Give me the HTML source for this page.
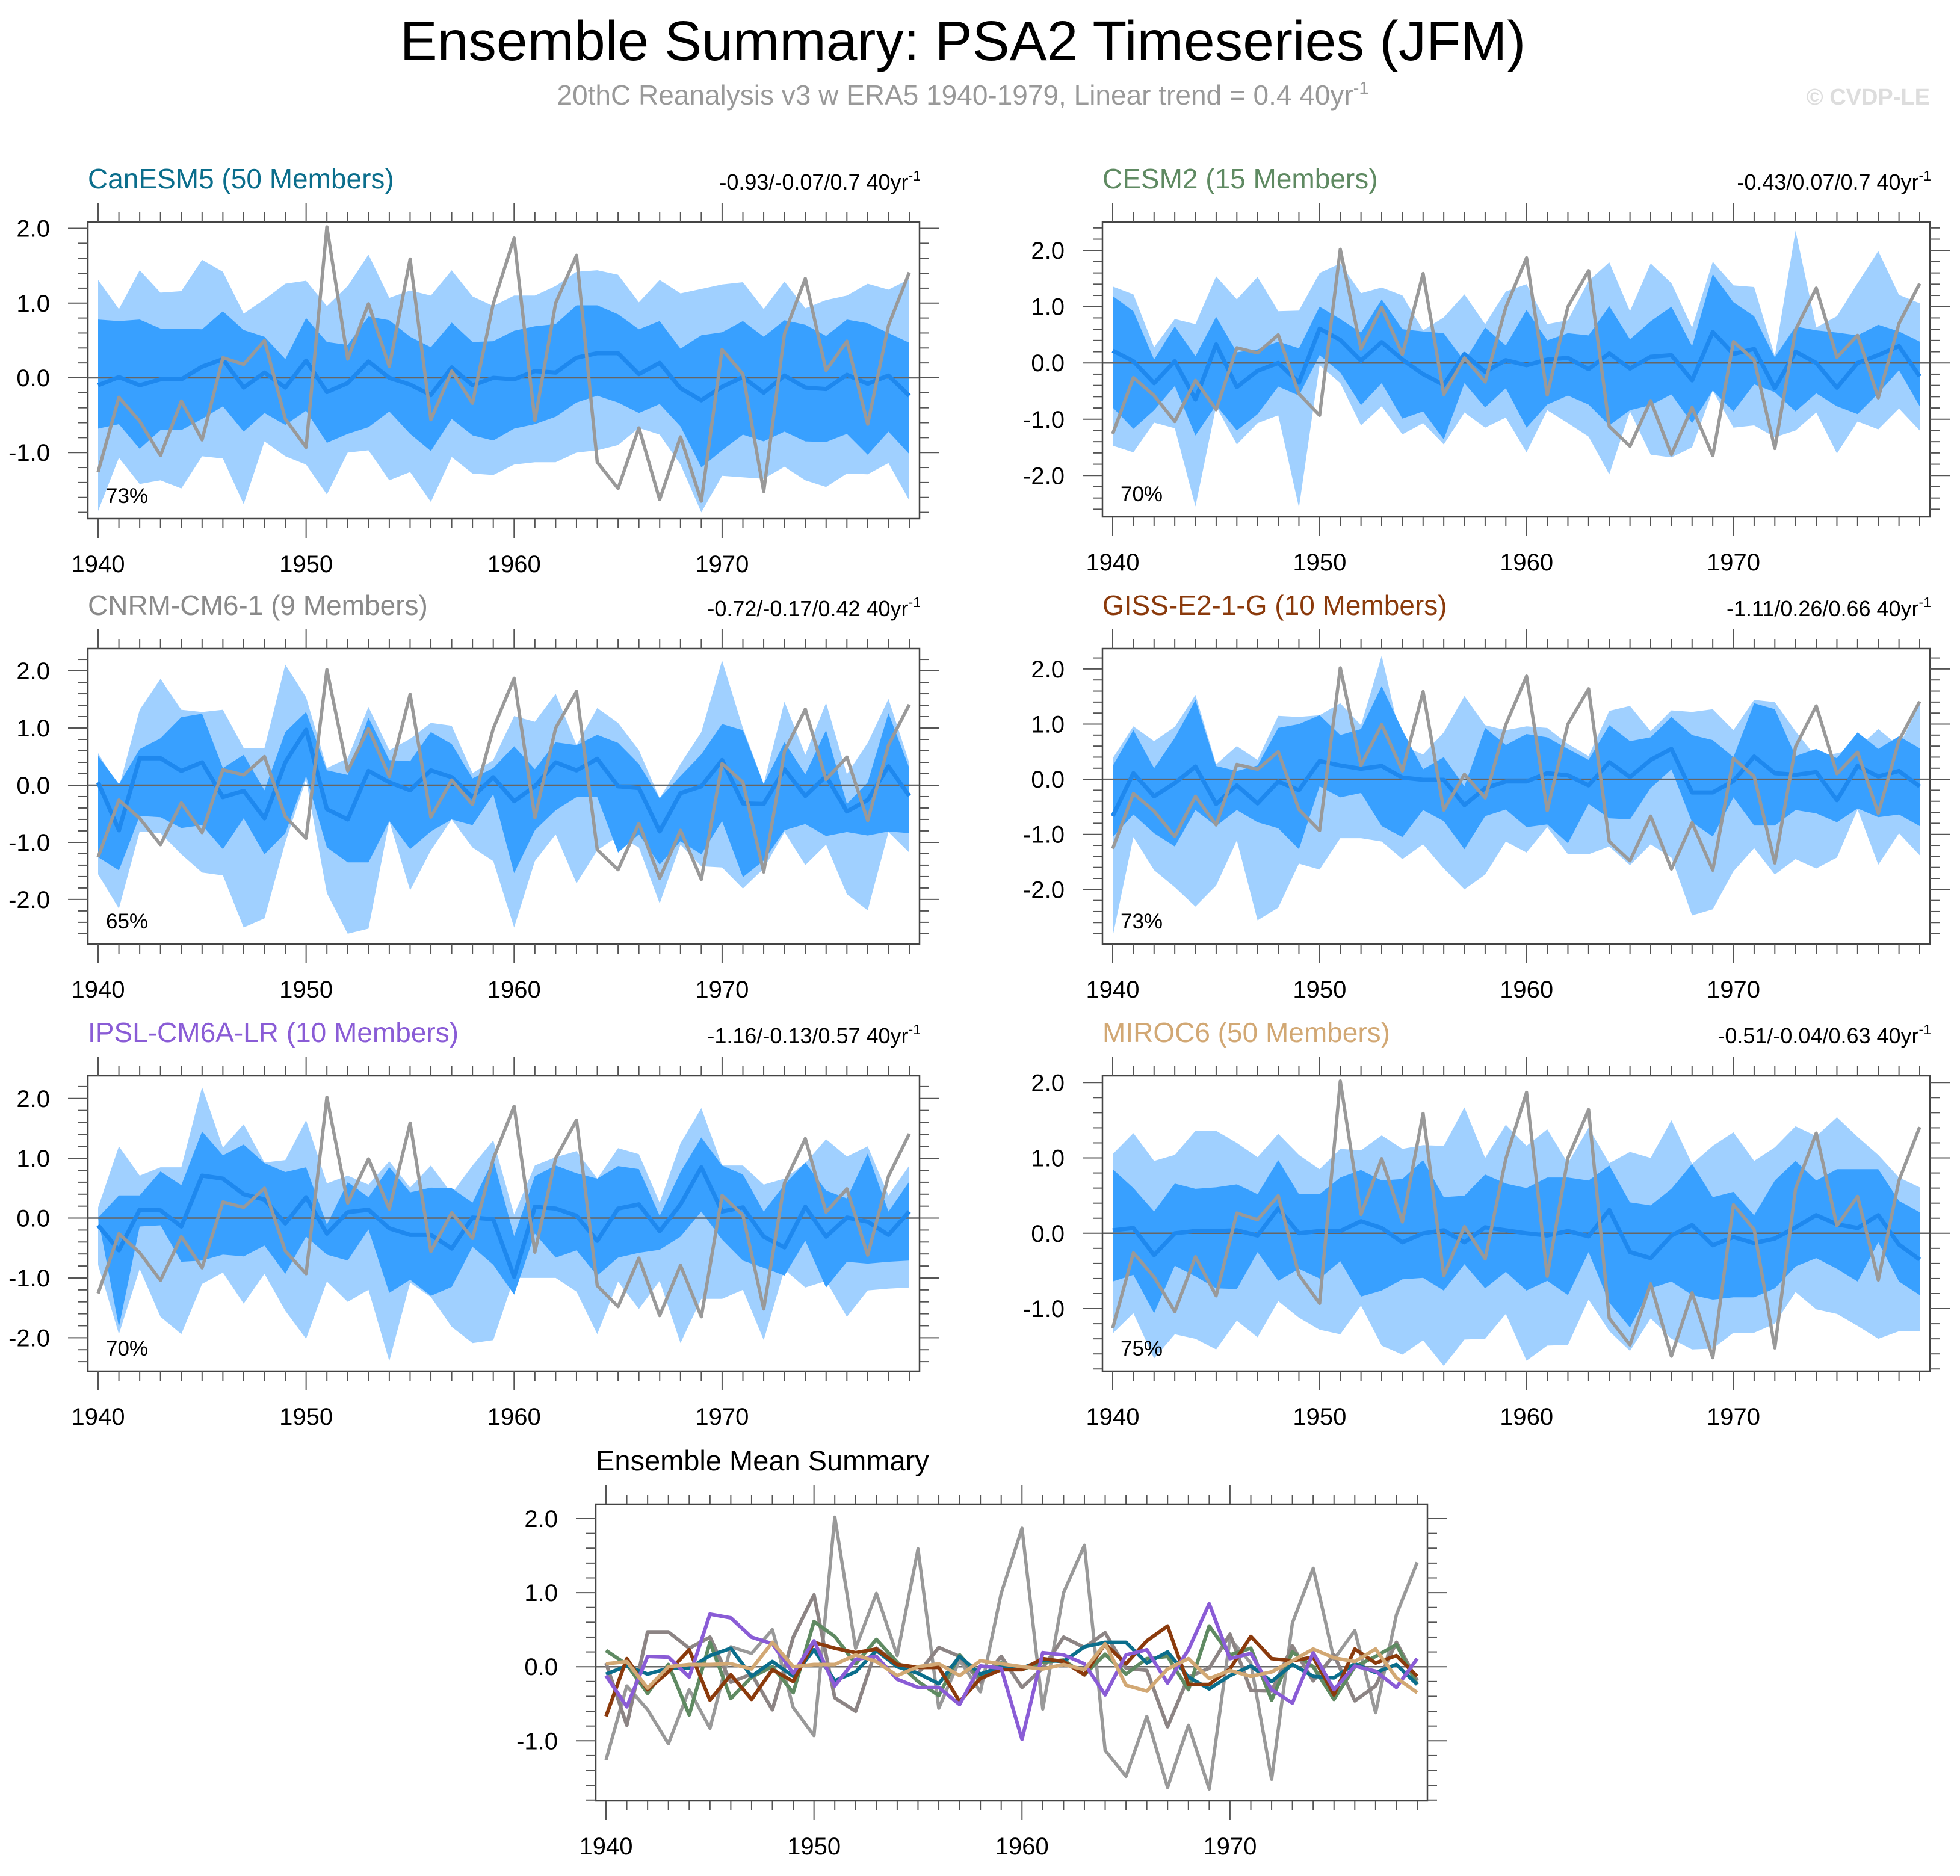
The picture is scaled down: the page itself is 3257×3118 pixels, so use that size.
<!DOCTYPE html>
<html><head><meta charset="utf-8"><style>
html,body{margin:0;padding:0;background:#fff;}
svg text{font-family:"Liberation Sans",sans-serif;}
</style></head><body>
<svg id="chart" xmlns="http://www.w3.org/2000/svg" width="3257" height="3113" viewBox="0 0 3257 3113">
<rect width="3257" height="3113" fill="#fff"/>
<text x="1600" y="100" font-size="93" text-anchor="middle" fill="#000">Ensemble Summary: PSA2 Timeseries (JFM)</text>
<text x="1600" y="174" font-size="46" text-anchor="middle" fill="#999">20thC Reanalysis v3 w ERA5 1940-1979, Linear trend = 0.4 40yr<tspan dy="-18" font-size="29">-1</tspan></text>
<text x="3207" y="174" font-size="38" font-weight="bold" text-anchor="end" fill="#ddd">© CVDP-LE</text>
<g id="plots"></g>
</svg>
<script>
const years = [];
for (let y = 1940; y <= 1979; y++) years.push(y);
const obs = [-1.26,-0.26,-0.58,-1.04,-0.31,-0.83,0.27,0.18,0.50,-0.55,-0.93,2.02,0.25,0.99,0.15,1.59,-0.56,0.09,-0.34,0.99,1.87,-0.57,1.00,1.64,-1.13,-1.48,-0.67,-1.63,-0.79,-1.65,0.38,0.05,-1.52,0.59,1.33,0.10,0.49,-0.62,0.70,1.41];

const canMean = [-0.1,0.01,-0.1,-0.02,-0.02,0.15,0.25,-0.13,0.07,-0.13,0.23,-0.19,-0.07,0.22,0,-0.09,-0.23,0.14,-0.1,0,-0.02,0.09,0.07,0.27,0.33,0.33,0.05,0.2,-0.14,-0.3,-0.12,0.01,-0.2,0.03,-0.13,-0.15,0.04,-0.08,0.03,-0.24];
const canDarkHi = [0.78,0.76,0.78,0.66,0.66,0.65,0.89,0.64,0.55,0.25,0.80,0.48,0.44,0.82,0.77,0.55,0.41,0.74,0.48,0.49,0.63,0.69,0.72,0.97,0.97,0.85,0.65,0.76,0.39,0.57,0.61,0.76,0.55,0.77,0.71,0.56,0.78,0.73,0.60,0.47];
const canDarkLo = [-0.68,-0.62,-0.95,-0.70,-0.70,-0.55,-0.38,-0.72,-0.47,-0.63,-0.44,-0.87,-0.75,-0.66,-0.45,-0.75,-0.98,-0.55,-0.77,-0.84,-0.68,-0.62,-0.52,-0.33,-0.24,-0.33,-0.47,-0.35,-0.65,-1.20,-0.97,-0.76,-0.85,-0.72,-0.85,-0.86,-0.75,-1.03,-0.72,-1.02];
const canLightHi = [1.31,0.92,1.44,1.14,1.16,1.58,1.42,0.86,1.05,1.26,1.30,0.96,1.23,1.65,1.07,1.17,1.10,1.44,1.09,0.96,1.10,1.10,1.23,1.42,1.44,1.38,1.01,1.31,1.13,1.19,1.25,1.28,0.92,1.29,0.93,1.04,1.10,1.26,1.18,1.32];
const canLightLo = [-1.78,-1.07,-1.42,-1.37,-1.48,-1.05,-1.08,-1.69,-0.85,-1.05,-1.16,-1.56,-1.00,-0.97,-1.37,-1.26,-1.66,-1.06,-1.28,-1.30,-1.16,-1.13,-1.13,-1.00,-0.97,-0.90,-0.67,-0.76,-1.16,-1.80,-1.31,-1.33,-1.35,-1.19,-1.37,-1.46,-1.28,-1.29,-1.14,-1.64];

const cesmMean = [0.22,0.03,-0.36,0.03,-0.65,0.33,-0.43,-0.14,0,-0.35,0.61,0.41,0.04,0.37,0.06,-0.2,-0.39,0.16,-0.16,0.05,-0.04,0.06,0.09,-0.11,0.17,-0.1,0.11,0.14,-0.31,0.55,0.16,0.25,-0.45,0.2,0,-0.44,0,0.14,0.3,-0.24];
const cesmDarkHi = [1.19,0.92,0.06,0.65,0.12,0.82,0.19,0.24,0.38,0.26,1.0,0.78,0.54,1.13,0.6,0.56,0.53,0.03,0.63,0.31,0.94,0.4,0.53,0.49,1.01,0.42,0.74,1.0,0.3,1.58,1.08,0.83,0.1,0.65,0.58,0.54,0.49,0.68,0.56,0.38];
const cesmDarkLo = [-0.79,-1.17,-0.84,-0.41,-1.29,-0.75,-1.2,-0.91,-0.42,-0.58,0.14,-0.17,-0.75,-0.36,-0.99,-0.86,-1.36,-0.36,-0.79,-0.45,-1.15,-0.74,-0.58,-0.74,-1.11,-0.84,-0.75,-0.56,-1.07,-0.49,-0.86,-0.38,-0.52,-0.86,-0.54,-0.77,-0.91,-0.54,-0.13,-0.77];
const cesmLightHi = [1.36,1.22,0.28,0.78,0.69,1.54,1.13,1.53,0.92,0.93,1.6,1.77,1.24,1.34,1.2,0.58,0.81,1.22,0.69,1.27,1.4,0.69,0.76,1.46,1.79,0.92,1.77,1.42,0.63,1.8,1.38,1.35,0.12,2.35,0.63,0.83,1.42,1.99,1.21,1.06];
const cesmLightLo = [-1.47,-1.59,-1.06,-1.16,-2.55,-0.77,-1.45,-1.07,-0.93,-2.57,-0.04,-0.36,-1.11,-0.77,-1.27,-1.07,-1.45,-0.88,-1.15,-0.97,-1.59,-0.84,-1.07,-1.31,-1.98,-0.86,-1.63,-1.68,-1.5,-0.49,-1.15,-1.11,-1.32,-1.2,-0.88,-1.61,-1.04,-1.18,-0.81,-1.2];

const cnrmMean = [0.05,-0.79,0.47,0.47,0.25,0.4,-0.21,-0.1,-0.58,0.4,0.97,-0.42,-0.6,0.25,0.05,-0.09,0.26,0.14,-0.21,0.14,-0.28,-0.02,0.4,0.26,0.46,-0.02,-0.05,-0.81,-0.14,-0.02,0.44,-0.32,-0.33,0.28,-0.19,0.16,-0.46,-0.26,0.33,-0.19];
const cnrmDarkHi = [0.51,0.02,0.63,0.82,1.19,1.25,0.3,0.53,-0.09,0.93,1.28,0.26,0.18,1.18,0.44,0.42,0.93,0.72,0.12,0.3,0.68,0.28,0.75,0.7,0.88,0.74,0.37,-0.23,0.16,0.54,1.07,0.96,0.02,0.75,0.19,0.96,-0.33,0.05,1.26,0.3];
const cnrmDarkLo = [-1.26,-1.49,-0.54,-0.56,-0.75,-0.7,-1.12,-0.58,-1.21,-0.84,0.16,-1.09,-1.35,-1.35,-0.63,-1.12,-0.81,-0.6,-0.7,-0.16,-1.54,-0.79,-0.44,-0.21,-0.21,-1.18,-0.86,-1.39,-0.98,-1.21,-0.63,-1.61,-1.32,-0.79,-0.68,-0.89,-0.82,-0.88,-0.81,-0.84];
const cnrmLightHi = [0.56,-0.04,1.32,1.86,1.32,1.28,1.32,0.65,0.65,2.11,1.54,0.3,0.47,1.37,0.61,0.81,1.09,1.04,0.21,0.44,1.21,1.11,1.6,0.7,1.35,1.09,0.61,-0.23,0.37,0.93,2.18,1.0,0.02,1.46,0.53,1.44,0.19,0.74,1.51,0.39];
const cnrmLightLo = [-1.56,-2.16,-0.81,-0.84,-1.21,-1.53,-1.58,-2.49,-2.33,-1.0,0.1,-1.89,-2.6,-2.51,-0.63,-1.84,-1.14,-0.6,-1.09,-1.33,-2.49,-1.33,-0.86,-1.72,-1.14,-0.89,-1.09,-2.07,-1.04,-1.42,-1.44,-1.81,-1.46,-0.82,-1.4,-1.04,-1.91,-2.19,-0.82,-1.18];

const gissMean = [-0.67,0.11,-0.31,-0.07,0.23,-0.45,-0.11,-0.44,-0.04,-0.2,0.33,0.25,0.19,0.24,0.03,-0.01,-0.01,-0.47,-0.16,-0.04,-0.04,0.11,0.07,-0.11,0.31,0.04,0.35,0.55,-0.24,-0.24,-0.03,0.41,0.11,0.08,0.13,-0.38,0.24,0.05,0.15,-0.13];
const gissDarkHi = [0.24,0.89,0.2,0.75,1.44,0.24,0.15,0.25,0.93,1.0,1.16,0.8,0.91,1.69,0.89,0.18,0.4,-0.13,0.93,0.62,0.82,0.76,0.55,0.35,0.98,0.69,0.76,1.13,0.8,0.71,0.4,1.38,1.27,0.42,0.55,0.38,0.85,0.55,0.78,0.56];
const gissDarkLo = [-1.05,-0.64,-0.98,-1.22,-0.56,-0.85,-0.56,-0.78,-0.89,-1.27,-0.13,-0.33,-0.25,-0.85,-1.05,-0.56,-0.76,-1.27,-0.67,-0.55,-0.87,-0.82,-1.16,-0.45,-0.71,-0.73,-0.16,0.18,-0.78,-1.04,-0.33,-0.84,-0.84,-0.56,-0.62,-0.78,-0.53,-0.69,-0.64,-0.85];
const gissLightHi = [0.38,0.96,0.69,0.95,1.53,0.27,0.6,0.35,1.15,1.13,1.16,1.38,0.98,2.24,0.6,0.45,0.85,1.51,0.98,0.89,0.96,0.93,0.64,0.42,1.24,1.33,0.87,1.25,1.22,1.27,0.89,1.44,1.4,0.87,0.4,0.47,0.56,0.91,0.6,1.36];
const gissLightLo = [-2.85,-1.05,-1.65,-1.96,-2.31,-1.93,-1.11,-2.56,-2.33,-1.53,-1.64,-1.07,-1.07,-1.13,-1.45,-1.18,-1.62,-2.0,-1.73,-1.13,-1.33,-0.87,-1.36,-1.36,-1.22,-1.56,-1.18,-1.42,-2.47,-2.36,-1.67,-1.25,-1.73,-1.45,-1.62,-1.42,-0.55,-1.55,-0.98,-1.38];

const ipslMean = [-0.12,-0.54,0.14,0.13,-0.14,0.71,0.66,0.4,0.31,-0.09,0.35,-0.26,0.1,0.14,-0.17,-0.28,-0.28,-0.51,0.01,-0.02,-0.98,0.19,0.16,0.04,-0.38,0.16,0.23,-0.22,0.23,0.85,0.11,0.18,-0.31,-0.49,0.19,-0.31,0.01,-0.06,-0.28,0.11];
const ipslDarkHi = [0.01,0.38,0.38,0.78,0.55,1.45,1.05,1.23,0.92,0.77,0.85,-0.11,0.6,0.35,0.85,0.43,0.51,0.5,0.26,0.98,-0.3,0.7,0.88,0.75,0.66,0.87,0.82,0.04,0.77,1.35,0.88,0.73,0.11,0.56,0.93,0.46,0.33,1.08,0.11,0.61];
const ipslDarkLo = [0.01,-1.82,-0.14,-0.12,-0.73,-0.71,-0.61,-0.64,-0.46,-0.93,-0.31,-0.61,-0.71,-0.19,-1.25,-1.03,-1.3,-1.15,-0.48,-0.78,-1.28,-0.26,-0.66,-0.54,-0.96,-0.66,-0.58,-0.53,-0.31,0.11,-0.36,-0.71,-0.83,-0.96,-0.38,-1.16,-0.73,-0.76,-0.73,-0.71];
const ipslLightHi = [0.18,1.2,0.71,0.85,0.85,2.19,1.18,1.57,0.93,0.97,1.64,0.58,0.71,0.56,0.95,0.51,0.88,0.41,0.88,1.3,0.06,0.88,1.02,1.12,0.66,1.17,1.07,0.26,1.25,1.84,0.88,0.88,0.56,0.66,0.92,1.32,1.03,1.2,0.38,0.88];
const ipslLightLo = [-0.78,-1.94,-0.85,-1.65,-1.94,-1.1,-0.91,-1.43,-0.93,-1.55,-2.02,-1.06,-1.4,-1.2,-2.39,-1.08,-1.32,-1.82,-2.09,-2.04,-1.0,-1.0,-1.0,-1.23,-1.94,-1.06,-1.52,-1.05,-2.09,-1.35,-1.35,-1.2,-2.04,-0.86,-1.16,-1.05,-1.65,-1.21,-1.18,-1.16];

const mirocMean = [0.04,0.07,-0.29,0,0.03,0.03,0.04,-0.03,0.33,0,0.03,0.03,0.16,0.07,-0.12,0,0.04,-0.12,0.08,0.04,0,-0.03,0.03,-0.04,0.31,-0.25,-0.33,-0.03,0.11,-0.16,-0.05,-0.13,-0.07,0.08,0.24,0.12,0.07,0.24,-0.15,-0.35];
const mirocDarkHi = [0.85,0.6,0.29,0.66,0.59,0.61,0.65,0.52,0.97,0.52,0.52,0.74,0.84,0.7,0.72,0.97,0.48,0.5,0.78,0.66,0.6,0.74,0.74,0.7,0.9,0.41,0.37,0.59,0.92,0.48,0.55,0.24,0.7,0.96,0.7,0.85,0.85,0.85,0.43,0.28];
const mirocDarkLo = [-0.64,-0.55,-1.06,-0.43,-0.57,-0.73,-0.74,-0.25,-0.63,-0.47,-0.6,-0.37,-0.84,-0.76,-0.61,-0.59,-0.76,-0.41,-0.73,-0.51,-0.76,-0.63,-0.82,-0.25,-0.92,-1.25,-0.73,-0.64,-0.82,-0.88,-0.85,-0.85,-0.73,-0.44,-0.33,-0.47,-0.64,-0.12,-0.64,-0.82];
const mirocLightHi = [1.05,1.33,0.96,1.04,1.36,1.36,1.2,1.01,1.32,1.04,0.85,1.12,1.1,1.3,1.12,1.17,1.16,1.67,1.0,1.44,1.16,1.38,0.93,1.4,0.93,1.08,1.0,1.5,0.92,1.16,1.34,0.96,1.14,1.42,1.29,1.54,1.28,1.04,0.74,0.61];
const mirocLightLo = [-1.33,-1.06,-1.66,-1.34,-1.4,-1.54,-1.16,-1.38,-0.9,-1.12,-1.28,-1.34,-0.96,-1.49,-1.61,-1.42,-1.76,-1.41,-1.4,-1.07,-1.69,-1.49,-1.48,-0.88,-1.3,-1.56,-1.13,-1.4,-1.54,-1.53,-1.32,-1.32,-1.2,-0.78,-1.01,-1.07,-1.23,-1.4,-1.3,-1.3];

const yTickLabels1 = ["-1.0","0.0","1.0","2.0"];
const yTickLabels2 = ["-2.0","-1.0","0.0","1.0","2.0"];
const xTickLabels = ["1940","1950","1960","1970"];

const NS = "http://www.w3.org/2000/svg";
const root = document.getElementById('plots');
function el(tag, attrs, parent) {
  const e = document.createElementNS(NS, tag);
  for (const k in attrs) e.setAttribute(k, attrs[k]);
  (parent || root).appendChild(e);
  return e;
}

function drawPanel(p) {
  const g = el('g', {});
  
  
  const X0 = p.x0, X1 = p.x1, Y0 = p.y0, Y1 = p.y1;
  const px0 = X0 + 17, px1 = X1 - 17;
  const xs = (yr) => px0 + (yr - 1940) * (px1 - px0) / 39;
  const ys = (v) => Y0 + (p.vmax - v) * (Y1 - Y0) / (p.vmax - p.vmin);
  const t = el('text', {x: X0, y: Y0 - 56, 'font-size': p.tsize || 46, fill: p.tcolor}, g);
  t.textContent = p.title;
  
  
  if (p.stat) {
    const s = el('text', {x: X1 + 2, y: Y0 - 54, 'font-size': 36, 'text-anchor': 'end', fill: '#000'}, g);
    s.textContent = p.stat + ' 40yr';
    const sup = el('tspan', {dy: -15, 'font-size': 23}, s);
    sup.textContent = '-1';
    
    
  }
  const clipId = 'clip-' + p.id;
  const cp = el('clipPath', {id: clipId}, g);
  el('rect', {x: X0, y: Y0, width: X1 - X0, height: Y1 - Y0}, cp);
  const pg = el('g', {'clip-path': 'url(#' + clipId + ')'}, g);
  function band(hi, lo, color, name) {
    let pts = [];
    for (let i = 0; i < hi.length; i++) pts.push(xs(years[i]).toFixed(1) + ',' + ys(hi[i]).toFixed(1));
    for (let i = lo.length - 1; i >= 0; i--) pts.push(xs(years[i]).toFixed(1) + ',' + ys(lo[i]).toFixed(1));
    const b = el('polygon', {points: pts.join(' '), fill: color}, pg);
    
    
  }
  function line(vals, color, w, name) {
    const pts = vals.map((v, i) => xs(years[i]).toFixed(1) + ',' + ys(v).toFixed(1)).join(' ');
    const l = el('polyline', {points: pts, fill: 'none', stroke: color, 'stroke-width': w, 'stroke-linejoin': 'round'}, pg);
    
    
  }
  if (p.lightHi) {
    band(p.lightHi, p.lightLo, '#a0d0ff', p.id + '-outer-spread-band');
    band(p.darkHi, p.darkLo, '#38a0ff', p.id + '-inner-spread-band');
  }
  const z = el('line', {x1: X0, x2: X1, y1: ys(0), y2: ys(0), stroke: '#666', 'stroke-width': 2.5}, pg);
  
  
  if (p.mean) {
    line(p.mean, '#1e88ee', 7, p.id + '-ensemble-mean-line');
    line(obs, '#999999', 5.5, p.id + '-observed-line');
  }
  if (p.multi) {
    line(obs, '#999999', 5.5, p.id + '-observed-line');
    p.multi.forEach(m => line(m.vals, m.color, 6, p.id + '-' + m.name + '-line'));
  }
  const fr = el('rect', {x: X0, y: Y0, width: X1 - X0, height: Y1 - Y0, fill: 'none', stroke: '#444', 'stroke-width': 2.5}, g);
  
  
  for (let i = 0; i < years.length; i++) {
    const x = xs(years[i]);
    const major = years[i] % 10 === 0;
    const L = major ? 32 : 16;
    el('line', {x1: x, x2: x, y1: Y0, y2: Y0 - L, stroke: '#555', 'stroke-width': 2}, g);
    el('line', {x1: x, x2: x, y1: Y1, y2: Y1 + L, stroke: '#555', 'stroke-width': 2}, g);
  }
  xTickLabels.forEach(lbl => {
    const tx = el('text', {x: xs(+lbl), y: Y1 + 89, 'font-size': 40, 'text-anchor': 'middle', fill: '#000'}, g);
    tx.textContent = lbl;
    
    
  });
  for (let k = Math.ceil(p.vmin * 5); k <= Math.floor(p.vmax * 5); k++) {
    const v = k / 5, y = ys(v);
    const major = k % 5 === 0;
    const L = major ? 33 : 16;
    el('line', {x1: X0, x2: X0 - L, y1: y, y2: y, stroke: '#555', 'stroke-width': 2}, g);
    el('line', {x1: X1, x2: X1 + L, y1: y, y2: y, stroke: '#555', 'stroke-width': 2}, g);
  }
  p.ylabels.forEach(lbl => {
    const ty = el('text', {x: X0 - 63, y: ys(+lbl) + 14, 'font-size': 40, 'text-anchor': 'end', fill: '#000'}, g);
    ty.textContent = lbl;
    
    
  });
  if (p.pct) {
    const pc = el('text', {x: X0 + 30, y: Y1 - 26, 'font-size': 35, fill: '#000'}, g);
    pc.textContent = p.pct;
    
    
  }
}

const LX0 = 146, LX1 = 1528, RX0 = 1832, RX1 = 3207;
drawPanel({id:'canesm5', x0:LX0, x1:LX1, y0:369, y1:862, vmin:-1.884, vmax:2.085, title:'CanESM5 (50 Members)', tcolor:'#0b6e8c', stat:'-0.93/-0.07/0.7', pct:'73%', ylabels:yTickLabels1, mean:canMean, darkHi:canDarkHi, darkLo:canDarkLo, lightHi:canLightHi, lightLo:canLightLo});
drawPanel({id:'cesm2', x0:RX0, x1:RX1, y0:369, y1:859, vmin:-2.735, vmax:2.505, title:'CESM2 (15 Members)', tcolor:'#5f8a62', stat:'-0.43/0.07/0.7', pct:'70%', ylabels:yTickLabels2, mean:cesmMean, darkHi:cesmDarkHi, darkLo:cesmDarkLo, lightHi:cesmLightHi, lightLo:cesmLightLo});
drawPanel({id:'cnrm', x0:LX0, x1:LX1, y0:1078, y1:1569, vmin:-2.78, vmax:2.39, title:'CNRM-CM6-1 (9 Members)', tcolor:'#8a8a8a', stat:'-0.72/-0.17/0.42', pct:'65%', ylabels:yTickLabels2, mean:cnrmMean, darkHi:cnrmDarkHi, darkLo:cnrmDarkLo, lightHi:cnrmLightHi, lightLo:cnrmLightLo});
drawPanel({id:'giss', x0:RX0, x1:RX1, y0:1078, y1:1569, vmin:-2.99, vmax:2.37, title:'GISS-E2-1-G (10 Members)', tcolor:'#8b3a0c', stat:'-1.11/0.26/0.66', pct:'73%', ylabels:yTickLabels2, mean:gissMean, darkHi:gissDarkHi, darkLo:gissDarkLo, lightHi:gissLightHi, lightLo:gissLightLo});
drawPanel({id:'ipsl', x0:LX0, x1:LX1, y0:1788, y1:2279, vmin:-2.56, vmax:2.38, title:'IPSL-CM6A-LR (10 Members)', tcolor:'#8a5cd6', stat:'-1.16/-0.13/0.57', pct:'70%', ylabels:yTickLabels2, mean:ipslMean, darkHi:ipslDarkHi, darkLo:ipslDarkLo, lightHi:ipslLightHi, lightLo:ipslLightLo});
drawPanel({id:'miroc6', x0:RX0, x1:RX1, y0:1788, y1:2279, vmin:-1.83, vmax:2.09, title:'MIROC6 (50 Members)', tcolor:'#d2a874', stat:'-0.51/-0.04/0.63', pct:'75%', ylabels:yTickLabels1, mean:mirocMean, darkHi:mirocDarkHi, darkLo:mirocDarkLo, lightHi:mirocLightHi, lightLo:mirocLightLo});
drawPanel({id:'ensemble-mean-summary', x0:990, x1:2372, y0:2500, y1:2993, vmin:-1.81, vmax:2.195, title:'Ensemble Mean Summary', tcolor:'#000', tsize:47, ylabels:yTickLabels1,
  multi:[
    {name:'cnrm', vals:cnrmMean, color:'#8c8484'},
    {name:'cesm2', vals:cesmMean, color:'#5f8a62'},
    {name:'canesm5', vals:canMean, color:'#0b6e8c'},
    {name:'giss', vals:gissMean, color:'#8b3a0c'},
    {name:'ipsl', vals:ipslMean, color:'#8a5cd6'},
    {name:'miroc6', vals:mirocMean, color:'#d2a874'}
  ]});
</script>
</body></html>
